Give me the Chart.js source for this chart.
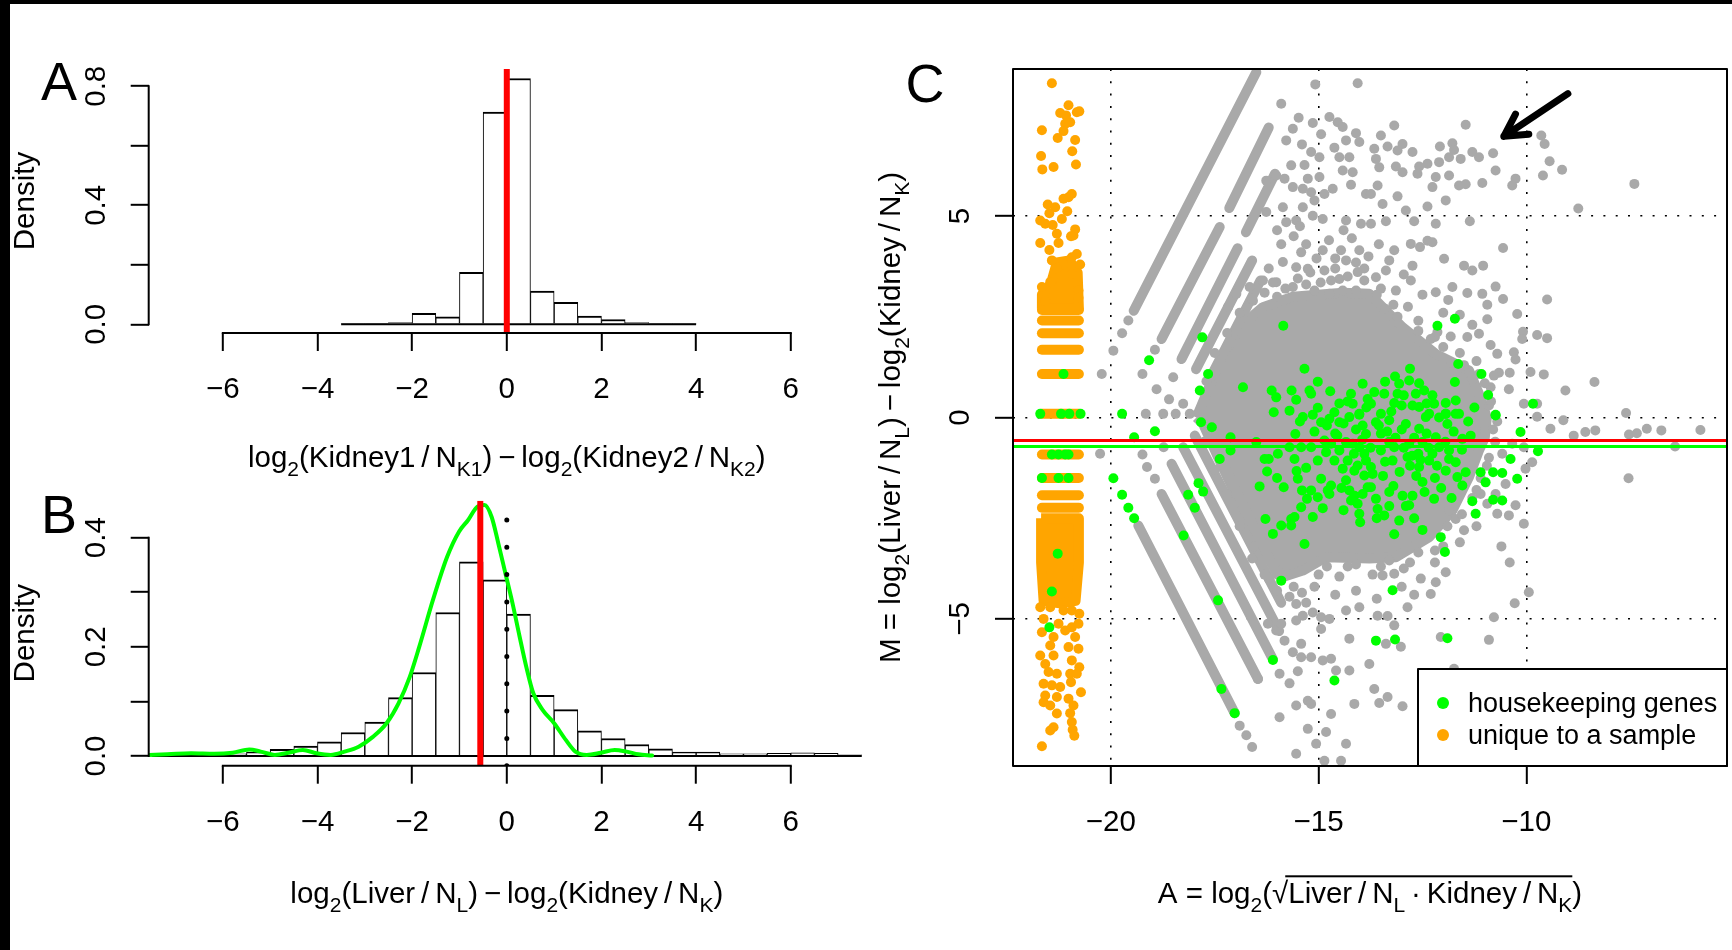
<!DOCTYPE html>
<html>
<head>
<meta charset="utf-8">
<script src="https://cdn.jsdelivr.net/npm/chart.js@4.4.1/dist/chart.umd.min.js"></script>
<style>
  html, body { margin: 0; padding: 0; background: #fff; }
  #page { position: relative; width: 1732px; height: 950px; overflow: hidden; background: #fff; }
  #page canvas { position: absolute; left: 0; top: 0; }
  .edge { position: absolute; background: #000; }
</style>
</head>
<body>
<div id="page">
  <div class="edge" style="left:0;top:0;width:1732px;height:4px"></div>
  <div class="edge" style="left:0;top:0;width:10px;height:950px"></div>
  <canvas id="chartA" width="1732" height="950"></canvas>
  <canvas id="chartB" width="1732" height="950"></canvas>
  <canvas id="chartC" width="1732" height="950"></canvas>
</div>
<script>
const FONT = "'Liberation Sans', Arial, Helvetica, sans-serif";
const TXT = 29.5;

// ---- panel A: kidney1 vs kidney2 histogram ----
const binWidth = 0.5;
const binMidsA = [-3.25, -2.75, -2.25, -1.75, -1.25, -0.75, -0.25, 0.25, 0.75, 1.25, 1.75, 2.25, 2.75, 3.25, 3.75];
const densA = [0.002, 0.003, 0.006, 0.037, 0.025, 0.175, 0.713, 0.826, 0.112, 0.074, 0.028, 0.016, 0.006, 0.002, 0.002];
const medianA = 0.0;

// ---- panel B: liver vs kidney histogram + density ----
const binMidsB = [-7.25, -6.75, -6.25, -5.75, -5.25, -4.75, -4.25, -3.75, -3.25, -2.75, -2.25, -1.75, -1.25, -0.75, -0.25,
                  0.25, 0.75, 1.25, 1.75, 2.25, 2.75, 3.25, 3.75, 4.25, 4.75, 5.25, 5.75, 6.25, 6.75, 7.25];
const densB = [0.001, 0.002, 0.003, 0.004, 0.007, 0.012, 0.018, 0.026, 0.043, 0.062, 0.107, 0.153, 0.263, 0.356, 0.323,
               0.260, 0.111, 0.085, 0.046, 0.032, 0.021, 0.013, 0.007, 0.007, 0.004, 0.004, 0.005, 0.006, 0.005, 0.002];
const hkDensX = [-7.56, -7.17, -6.67, -6.18, -5.79, -5.44, -5.20, -4.90, -4.61, -4.31, -4.02, -3.72, -3.43, -3.13, -2.83,
                 -2.54, -2.29, -2.05, -1.85, -1.56, -1.26, -1.01, -0.82, -0.62, -0.47, -0.32, -0.18, -0.03, 0.12, 0.27,
                 0.41, 0.56, 0.76, 1.00, 1.25, 1.45, 1.69, 1.99, 2.28, 2.53, 2.78, 3.07];
const hkDensY = [0.002, 0.003, 0.005, 0.004, 0.006, 0.012, 0.008, 0.002, 0.006, 0.011, 0.005, 0.002, 0.008, 0.017, 0.035,
                 0.060, 0.096, 0.145, 0.200, 0.286, 0.365, 0.411, 0.432, 0.457, 0.460, 0.438, 0.390, 0.335, 0.280, 0.219,
                 0.164, 0.115, 0.084, 0.060, 0.029, 0.008, 0.002, 0.006, 0.011, 0.008, 0.003, 0.001];
const medianB = -0.56;
const zeroLineB = 0;

// ---- panel C: MA plot ----
const grayPoints = [
  [-15.08,8.27],[-14.06,8.30],[-15.90,7.79],[-15.48,7.44],[-14.74,7.46],[-14.54,7.33],[-14.42,7.21],[-15.14,7.31],[-15.62,7.17],
  [-14.94,7.03],[-14.10,7.06],[-14.34,6.88],[-14.02,6.84],[-15.78,6.88],[-15.40,6.78],[-15.18,6.59],[-14.62,6.70],[-14.50,6.46],
  [-14.26,6.46],[-15.66,6.26],[-15.34,6.27],[-14.98,6.46],[-14.42,6.13],[-14.18,6.09],[-16.26,5.88],[-16.02,6.01],[-15.82,5.93],
  [-15.26,5.93],[-14.98,5.97],[-14.22,5.78],[-15.62,5.72],[-15.38,5.68],[-13.86,5.55],[-14.66,5.68],[-14.86,5.55],[-15.18,5.59],
  [-15.86,5.22],[-15.38,5.22],[-15.10,5.39],[-16.26,5.10],[-15.78,4.85],[-15.54,4.89],[-15.14,5.01],[-14.90,4.93],[-14.34,4.89],
  [-13.98,4.81],[-14.90,4.15],[-14.46,4.15],[-14.34,3.90],[-14.02,4.15],[-15.42,4.10],[-15.86,3.86],[-15.54,3.73],[-15.26,3.69],
  [-14.86,3.65],[-14.50,3.44],[-14.06,3.61],[-16.02,3.36],[-15.62,3.24],[-15.10,3.15],[-14.74,3.07],[-14.42,3.15],[-14.10,3.15],
  [-16.34,3.40],[-16.58,2.90],[-16.98,3.07],[-17.18,2.74],[-16.66,3.24],
  [-20.22,1.08],[-19.94,1.66],[-19.73,2.09],[-19.58,2.41],[-19.24,1.08],[-18.94,1.68],[-19.16,0.09],[-18.74,0.09],[-18.44,0.09],
  [-18.26,0.34],[-18.10,0.09],[-18.90,0.70],[-18.60,0.45],[-18.50,1.00],
  [-13.18,7.25],[-11.46,7.27],[-13.50,7.00],[-13.66,6.67],[-13.34,6.73],[-12.98,6.79],[-12.74,6.59],[-13.10,6.63],[-12.08,6.73],
  [-11.78,6.81],[-11.74,6.64],[-11.30,6.59],[-11.14,6.46],[-10.80,6.56],[-13.54,6.21],[-13.14,6.23],[-12.58,6.23],[-12.38,6.30],
  [-12.10,6.34],[-11.86,6.46],[-11.58,6.42],[-13.62,6.42],[-12.98,6.09],[-12.62,6.05],[-12.18,5.97],[-11.86,6.01],[-10.74,6.13],
  [-10.26,5.93],[-10.34,5.76],[-11.06,5.82],[-11.62,5.76],[-11.46,5.79],[-12.26,5.72],[-13.58,5.76],[-13.74,5.55],[-13.10,5.49],
  [-13.46,5.30],[-12.90,5.14],[-12.38,5.24],[-11.94,5.39],[-9.64,7.00],[-9.56,6.79],[-9.44,6.36],[-9.60,6.01],[-9.14,6.15],
  [-7.40,5.80],[-8.75,5.19],[-13.38,4.87],[-12.70,4.87],[-12.18,4.81],[-11.36,4.87],[-13.74,4.81],[-12.78,4.31],[-12.56,4.23],
  [-12.38,4.39],[-12.26,4.35],[-10.56,4.21],[-13.18,4.15],[-11.98,3.94],[-11.50,3.77],[-11.30,3.65],[-11.04,3.77],[-12.74,3.77],
  [-13.38,3.65],[-13.62,3.48],[-12.78,3.40],[-13.14,3.15],[-12.18,3.11],[-11.78,3.24],[-11.42,3.09],[-11.06,3.07],[-10.74,3.25],
  [-11.88,2.92],[-10.56,2.94],[-9.50,2.93],[-10.94,2.80],[-10.22,2.57],[-10.94,2.44],[-10.08,2.13],[-9.74,2.05],[-9.50,1.97],
  [-10.10,1.95],[-10.86,1.80],[-10.70,1.58],[-10.30,1.62],[-10.26,1.44],[-11.14,2.08],[-11.42,2.00],[-12.14,2.12],[-11.82,2.01],
  [-10.40,1.11],[-9.90,1.13],[-9.58,1.07],[-10.66,1.11],[-10.42,0.70],[-9.06,0.67],[-8.36,0.88],[-10.06,0.34],[-9.74,0.34],
  [-7.60,0.11],[-11.14,1.08],[-10.78,1.04],[-10.86,0.75],
  [-9.42,-0.28],[-9.11,-0.07],[-8.86,-0.45],[-8.58,-0.36],[-8.34,-0.32],[-7.53,-0.42],[-7.34,-0.39],[-7.10,-0.28],[-6.75,-0.32],
  [-5.81,-0.31],[-6.42,-0.72],[-7.54,-1.51],[-9.74,0.02],[-10.06,-0.74],[-9.86,-1.11],[-10.26,-2.18],[-10.06,-2.64],[-10.42,-2.43],
  [-10.70,-2.39],[-10.94,-2.14],[-9.94,-4.34],[-10.28,-4.61],[-10.78,-4.96],[-10.90,-5.52],[-12.06,-5.45],[-13.02,-5.69],
  [-13.38,-5.62],[-13.18,-5.16],[-13.58,-4.92],[-13.34,-4.93],[-12.86,-4.71],[-12.30,-4.38],[-11.94,-3.84],[-12.18,-4.09],
  [-12.54,-4.00],[-13.46,-3.92],[-13.18,-3.88],[-11.74,-6.24],[-13.66,-6.74],[-13.34,-6.94],[-13.54,-7.09],[-12.98,-7.17],
  [-11.86,-2.31],[-11.70,-2.52],[-11.10,-1.90],[-10.34,-0.65],[-10.58,-0.90],[-10.02,-1.27],[-10.50,-1.65],[-10.74,-1.90],
  [-13.78,-6.12],
  [-20.26,-0.90],[-19.24,-0.92],[-19.13,-1.23],[-18.94,-1.52],[-18.73,-0.74],[-15.54,-4.63],[-15.38,-4.92],[-15.14,-4.84],
  [-14.94,-4.96],[-14.74,-5.00],[-14.34,-4.79],[-14.26,-5.49],[-14.94,-5.25],[-15.42,-5.62],[-15.62,-5.83],[-15.18,-5.95],
  [-15.42,-5.95],[-14.90,-6.03],[-14.70,-5.99],[-14.58,-6.28],[-14.26,-6.28],[-15.54,-7.15],[-15.26,-7.03],[-15.18,-7.11],
  [-14.70,-7.36],[-14.14,-7.11],[-15.94,-7.44],[-15.26,-7.73],[-14.82,-7.81],[-15.06,-8.10],[-14.34,-8.10],[-15.54,-8.35],
  [-14.86,-8.52],[-14.46,-8.52],[-15.82,-5.54],[-16.02,-5.29],[-16.22,-5.12],[-15.54,-5.04],[-15.90,-5.12],[-14.02,-4.71],
  [-16.90,-7.65],[-16.74,-7.89],[-16.60,-8.18],[-16.46,-6.49],[-15.94,-6.36],[-15.70,-6.60],[-15.50,-6.30],
  [-16.00,3.00],[-15.30,3.30],[-14.70,3.40],[-13.50,3.20],[-13.20,2.80],[-12.60,2.40],[-12.20,2.00],[-11.60,1.60],[-11.20,1.40],
  [-10.90,0.30],[-10.80,-0.30],[-10.90,-1.00],[-11.20,-1.80],[-11.50,-2.80],[-12.00,-3.20],[-12.80,-3.60],[-13.50,-3.70],
  [-14.30,-3.70],[-15.00,-3.90],[-15.60,-4.20],[-16.20,-4.00],[-16.60,-3.50],
  [-17.70,0.90],[-17.50,1.60],[-17.20,2.10],[-16.90,2.60],[-16.60,2.95],[-16.30,3.10],[-16.10,3.35],[-15.80,3.20],[-15.50,3.45],
  [-15.20,3.60],[-14.95,3.35],[-14.60,3.70],[-14.30,3.50],[-14.10,3.85],[-13.90,3.40],[-13.60,3.05],[-13.40,2.70],[-13.10,2.50],
  [-12.85,2.75],[-12.60,2.15],[-12.30,1.95],[-12.00,1.75],[-11.80,1.35],[-11.50,1.30],[-11.30,0.95],[-11.00,0.85],[-10.85,0.40],
  [-10.70,-0.10],[-10.75,-0.60],[-10.95,-1.20],[-11.10,-1.50],[-11.30,-2.00],[-11.55,-2.40],[-11.90,-2.70],[-12.20,-3.30],
  [-12.60,-3.35],[-12.95,-3.75],[-13.30,-3.55],[-13.70,-3.90],[-14.10,-3.65],[-14.50,-3.95],[-14.80,-3.70],[-15.10,-4.20],
  [-15.40,-4.35],[-15.70,-4.45],[-16.00,-4.30],[-16.30,-3.90],[-16.55,-3.20],[-16.90,-2.70],[-17.20,-1.90],[-17.50,-1.30],
  [-17.75,-0.60],
  [-16.20,3.70],[-15.90,4.30],[-15.60,4.50],[-15.30,4.30],[-15.05,3.95],[-14.75,4.40],[-14.60,3.95],[-14.20,4.45],[-13.80,4.00],
  [-13.55,4.30],[-16.00,4.65],[-15.45,4.75],[-14.40,4.65],[-13.90,3.70],[-13.30,3.90],[-12.95,3.55],[-12.50,3.05],[-12.00,2.60],
  [-11.60,2.55],[-11.30,2.30],
  [-15.30,-4.60],[-14.60,-4.40],[-14.10,-4.30],[-13.60,-4.50],[-13.00,-4.20],[-12.70,-4.40],[-12.20,-3.60],[-11.60,-3.10],
  [-11.20,-2.70],[-10.60,-3.20],[-10.40,-3.60]
];
// dense runs of gray points (count-ratio streaks), [A1, M1, A2, M2]
const grayStreaks = [
  [-19.45, 2.65, -16.50, 8.57], [-18.78, 1.95, -17.38, 4.73], [-17.15, 5.20, -16.20, 7.20],
  [-18.30, 1.45, -16.95, 4.20], [-16.75, 4.60, -16.05, 6.05], [-17.95, 1.20, -16.60, 3.90],
  [-17.60, 1.00, -16.40, 3.40],
  [-19.34, -2.68, -17.02, -7.34], [-18.78, -1.90, -16.46, -6.49], [-18.54, -1.15, -16.10, -6.00],
  [-18.26, -0.74, -15.95, -5.30], [-17.98, -0.45, -15.90, -4.60], [-17.70, -0.30, -16.00, -3.90]
];
// outline of the solid gray core
const grayCore = [
  [-17.94, 0.00], [-17.30, 1.58], [-16.82, 2.32], [-16.34, 2.74], [-15.62, 3.00], [-14.42, 3.10], [-13.78, 3.07],
  [-12.98, 2.24], [-12.18, 1.58], [-11.38, 1.17], [-11.14, 0.59], [-10.95, 0.00], [-11.00, -0.50], [-11.14, -0.82],
  [-11.38, -1.48], [-11.78, -2.31], [-12.34, -2.97], [-13.14, -3.47], [-13.78, -3.50], [-14.82, -3.47], [-15.38, -3.80],
  [-15.86, -3.96], [-16.18, -3.55], [-16.82, -2.31], [-17.46, -0.90], [-17.78, -0.16], [-17.94, 0.00]
];
const greenPoints = [
  [-19.73,0.09],[-19.44,-0.49],[-18.94,-0.34],[-19.94,-1.51],[-19.73,-1.92],[-19.58,-2.24],[-19.44,-2.50],[-18.25,-2.93],
  [-18.14,-1.92],[-17.98,-2.24],[-17.89,-1.63],[-17.78,-1.84],[-17.42,-4.54],[-17.34,-6.74],[-17.02,-7.34],[-17.83,-0.12],
  [-17.57,-0.24],[-17.38,-1.03],[-17.12,-0.49],[-17.12,-0.82],[-16.50,-0.61],[-16.42,-1.71],[-16.28,-2.52],[-16.10,-2.89],
  [-16.24,-1.34],[-16.30,-1.03],[-16.20,-1.03],[-15.98,-0.90],[-15.90,-4.05],[-15.84,-1.73],[-15.90,-2.68],[-16.10,-6.02],
  [-15.66,-2.52],[-15.66,-2.68],[-15.58,-2.47],[-15.58,-1.03],[-15.56,-0.41],[-15.53,-1.33],[-15.50,-1.52],[-15.42,-2.23],
  [-15.40,-1.81],[-15.34,-3.14],[-15.28,-2.02],[-15.18,-1.81],[-15.14,-2.47],[-15.02,-1.98],[-14.94,-1.52],[-14.78,-1.81],
  [-14.70,-1.69],[-14.74,-1.90],[-14.62,-6.53],[-14.34,-1.56],[-14.26,-1.81],[-14.22,-2.06],[-14.14,-1.94],[-14.06,-2.14],
  [-14.02,-2.39],[-13.94,-1.90],[-13.82,-1.73],[-13.90,-1.44],[-14.14,-1.32],[-14.42,-1.27],[-14.62,-1.07],[-14.82,-0.86],
  [-15.02,-1.07],[-15.18,-0.74],[-15.42,-0.74],[-15.70,-0.74],[-15.38,0.01],[-15.14,0.07],[-14.94,-0.12],[-14.74,-0.03],
  [-14.50,-0.12],[-14.26,0.01],[-14.02,0.07],[-13.94,-0.20],[-13.86,-0.41],[-14.02,-0.74],[-14.18,-0.65],[-14.34,-0.61],
  [-14.50,-0.82],[-14.70,-0.65],[-14.86,-0.57],[-14.30,-1.07],[-14.06,-1.19],[-13.86,-1.07],
  [-10.74,0.05],[-10.14,-0.36],[-10.38,-1.03],[-10.22,-1.52],[-9.72,-0.84],[-10.58,-1.38],[-10.80,-1.36],[-10.98,-1.61],
  [-11.22,-2.39],[-11.30,-2.08],[-10.80,-2.04],[-10.58,-2.06],[-11.54,-1.69],[-11.34,-0.45],[-11.70,-1.11],[-12.10,-0.74],
  [-11.90,-0.16],[-11.70,0.09],[-12.06,-2.97],[-11.96,-3.34],[-12.50,-2.79],[-13.18,-2.90],[-13.06,-2.56],[-13.42,-2.43],
  [-13.62,-5.54],[-13.16,-5.51],[-11.90,-5.48],[-13.22,-4.29],[-12.22,-2.02],[-12.82,-2.18],[-12.98,-1.94],[-13.58,-2.27],
  [-12.58,-1.23],[-13.50,-0.82],[-12.82,-0.65],[-11.54,-0.53],[-11.46,-1.36],[-11.10,-1.36],[-11.66,-1.48],[-11.94,-1.32],
  [-11.86,-0.82],[-12.74,-1.94],[-13.30,-1.85],[-13.62,-2.02],[-13.74,-1.73],[-12.34,-1.07],[-12.86,-0.98],[-13.22,-1.07],
  [-13.18,-0.74],[-12.50,-0.61],[-12.18,-0.49],[-12.58,-0.28],[-12.90,-0.16],[-13.30,-0.07],[-13.62,-0.12],[-12.42,0.01],
  [-11.94,0.09],[-12.26,-0.90],[-11.86,-1.03],[-13.74,-1.23],
  [-21.14,1.08],[-21.70,0.09],[-21.20,0.09],[-21.00,0.09],[-20.73,0.09],[-19.08,1.42],[-17.80,1.99],[-17.66,1.08],
  [-17.86,0.67],[-16.82,0.75],[-15.85,2.28],[-15.34,1.21],[-15.02,0.89],[-16.13,0.67],[-16.02,0.50],[-15.65,0.67],
  [-15.54,0.44],[-15.22,0.67],[-15.18,0.59],[-14.72,0.65],[-15.02,0.24],[-15.70,0.17],[-16.08,0.13],[-14.62,0.13],
  [-14.22,0.59],[-13.94,0.84],[-14.18,0.34],[-14.02,0.09],[-13.82,0.46],
  [-11.72,2.45],[-12.14,2.28],[-11.64,1.33],[-11.08,1.08],[-11.72,0.88],[-10.92,0.56],[-10.74,0.07],[-9.84,0.34],
  [-13.40,0.89],[-13.16,1.02],[-13.06,0.84],[-12.80,1.21],[-12.82,0.92],[-12.58,0.85],[-12.46,0.67],[-12.26,0.55],
  [-13.66,0.63],[-13.42,0.59],[-13.10,0.59],[-12.66,0.59],[-13.18,0.36],[-12.74,0.30],[-12.58,0.26],[-12.22,0.34],
  [-11.94,0.36],[-11.70,0.42],[-13.74,0.34],[-13.50,0.09],[-12.34,0.09],[-11.94,0.09],[-11.62,0.09],
  [-21.48,-5.21],[-21.42,-4.32],[-21.28,-3.38],[-21.42,-0.92],[-21.26,-0.92],[-21.10,-0.92],[-21.02,-0.92],
  [-21.66,-1.50],[-21.26,-1.50],[-21.02,-1.50],
  [-13.50,-0.40],[-13.30,-0.60],[-13.00,-0.30],[-12.80,-1.20],[-12.60,-0.90],[-12.40,-0.40],[-12.20,-1.50],[-13.90,-0.90],
  [-13.70,-1.40],[-14.10,-0.30],[-13.20,-1.70],[-12.90,-2.20],[-12.50,-1.60],[-13.60,-2.50],[-14.40,-2.30],[-14.60,-0.40],
  [-13.00,0.30],[-12.70,-0.50],[-13.40,-1.10],[-14.30,0.40],
  [-14.80,-0.20],[-14.55,-0.45],[-14.40,-0.15],[-14.15,-0.90],[-13.95,-0.55],[-13.75,-0.75],[-13.55,-0.20],[-13.35,-0.35],
  [-13.15,-0.50],[-12.95,-0.75],[-12.75,-0.95],[-12.55,-1.05],[-12.35,-0.75],[-12.15,-1.20],[-11.95,-0.60],[-11.75,-0.35],
  [-11.55,-0.80],[-13.45,-1.45],[-13.05,-1.35],[-12.65,-1.45],[-12.45,-1.85],[-12.05,-1.75],[-11.80,-2.00],[-14.45,-1.75],
  [-14.00,-2.60],[-13.30,-2.20],[-12.70,-2.50],[-15.10,-0.35],[-15.30,-1.25],[-14.90,-2.25],[-13.85,0.25],[-13.25,0.15],
  [-12.95,0.55],[-12.40,0.35],[-12.10,0.00],[-11.40,-0.10],[-11.25,0.25],[-14.50,0.35],[-15.45,-0.10],[-16.00,-1.50]
];
const orangePoints = [
  [-21.42,8.30],[-21.02,7.75],[-21.22,7.56],[-21.08,7.50],[-20.82,7.58],[-20.76,7.60],[-21.10,7.29],[-20.98,7.33],[-21.66,7.13],
  [-21.14,7.11],[-21.28,6.94],[-20.86,6.89],[-20.93,6.61],[-21.68,6.49],[-21.65,6.16],[-21.38,6.22],[-20.84,6.28],[-20.94,5.55],
  [-21.02,5.47],[-21.14,5.43],[-21.52,5.29],[-21.34,5.22],[-21.48,5.07],[-21.05,5.12],[-21.18,4.93],[-21.70,4.89],[-21.58,4.81],
  [-21.40,4.78],[-21.30,4.56],[-20.90,4.52],[-20.86,4.67],[-20.96,4.50],[-21.70,4.33],[-21.26,4.33],[-21.48,4.16],[-21.42,3.90],
  [-20.94,3.98],[-20.82,4.06],[-20.74,3.80],[-21.14,3.80],[-21.30,3.69],[-21.66,3.24],[-21.46,3.36],[-20.94,3.56],[-20.78,3.15],
  [-20.78,2.97],[-21.58,2.89],
  [-21.70,-4.71],[-21.46,-4.71],[-21.14,-4.79],[-20.94,-4.79],[-20.76,-4.87],[-21.62,-5.00],[-21.26,-5.12],[-21.10,-5.29],
  [-20.94,-5.21],[-20.78,-5.12],[-21.66,-5.33],[-21.38,-5.45],[-20.86,-5.45],[-21.46,-5.66],[-21.02,-5.70],[-20.78,-5.74],
  [-21.70,-5.91],[-21.38,-5.91],[-21.58,-6.12],[-20.94,-6.03],[-20.76,-6.20],[-21.50,-6.32],[-21.30,-6.36],[-20.98,-6.36],
  [-20.82,-6.36],[-21.62,-6.61],[-21.42,-6.65],[-21.22,-6.69],[-20.96,-6.57],[-21.58,-6.90],[-21.30,-6.94],[-21.02,-6.98],
  [-20.72,-6.82],[-21.62,-7.07],[-21.46,-7.15],[-20.90,-7.15],[-21.30,-7.35],[-20.98,-7.34],[-20.94,-7.56],[-21.38,-7.69],
  [-21.46,-7.77],[-20.92,-7.75],[-20.88,-7.90],[-21.66,-8.16]
];
// rows of overlapping orange points at a repeated M value
const orangeRowM = [2.67, 2.41, 2.09, 1.68, 1.08, 0.09, -0.92, -1.50, -1.93, -2.24];
const orangeRowA = [-21.66, -20.77];
const orangeBlocks = [
  [[-21.66,2.70],[-21.66,3.05],[-21.45,3.30],[-21.30,3.85],[-21.00,3.90],[-20.80,3.60],[-20.77,2.70],[-21.66,2.70]],
  [[-21.68,-2.50],[-20.77,-2.50],[-20.77,-3.60],[-20.85,-4.55],[-21.20,-4.62],[-21.62,-4.55],[-21.68,-3.60],[-21.68,-2.50]]
];
const normAll = -0.57;   // red line
const normHk = -0.72;    // green line
const arrowTail = [-9.00, 8.04];
const arrowTip = [-10.54, 6.98];

// ---- axes ----
const xTicksAB = [-6, -4, -2, 0, 2, 4, 6];
const xTickLabelsAB = ['\u22126', '\u22124', '\u22122', '0', '2', '4', '6'];
const yTicksA = [0, 0.2, 0.4, 0.6, 0.8];
const yLabelValsA = [0, 0.4, 0.8];
const yLabelsA = ['0.0', '0.4', '0.8'];
const yTicksB = [0, 0.1, 0.2, 0.3, 0.4];
const yLabelValsB = [0, 0.2, 0.4];
const yLabelsB = ['0.0', '0.2', '0.4'];
const xTicksC = [-20, -15, -10];
const xTickLabelsC = ['\u221220', '\u221215', '\u221210'];
const yTicksC = [-5, 0, 5];
const yLabelsC = ['\u22125', '0', '5'];

const rangeAB = [-7.566, 7.566];
const yRangeA = [-0.0292, 0.858];
const yRangeB = [-0.0178, 0.4678];
const rangeC = [-22.356, -5.17];
const yRangeC = [-8.652, 8.652];

const SP = '\u2009';
const densityTitle = [{ t: 'Density' }];
const xTitleA = [{ t: 'log' }, { t: '2', sub: true }, { t: '(Kidney1' + SP + '/' + SP + 'N' }, { t: 'K1', sub: true },
  { t: ')' + SP + '\u2212' + SP + 'log' }, { t: '2', sub: true }, { t: '(Kidney2' + SP + '/' + SP + 'N' }, { t: 'K2', sub: true }, { t: ')' }];
const xTitleB = [{ t: 'log' }, { t: '2', sub: true }, { t: '(Liver' + SP + '/' + SP + 'N' }, { t: 'L', sub: true },
  { t: ')' + SP + '\u2212' + SP + 'log' }, { t: '2', sub: true }, { t: '(Kidney' + SP + '/' + SP + 'N' }, { t: 'K', sub: true }, { t: ')' }];
const xTitleC = [{ t: 'A = log' }, { t: '2', sub: true }, { t: '(\u221A' }, { t: 'Liver' + SP + '/' + SP + 'N', over: true },
  { t: 'L', sub: true, over: true }, { t: SP + '\u00B7' + SP + 'Kidney' + SP + '/' + SP + 'N', over: true }, { t: 'K', sub: true, over: true }, { t: ')' }];
const yTitleC = [{ t: 'M = log' }, { t: '2', sub: true }, { t: '(Liver' + SP + '/' + SP + 'N' }, { t: 'L', sub: true },
  { t: ')' + SP + '\u2212' + SP + 'log' }, { t: '2', sub: true }, { t: '(Kidney' + SP + '/' + SP + 'N' }, { t: 'K', sub: true }, { t: ')' }];

function drawRich(ctx, parts, x, y, size, rotate, align) {
  ctx.save();
  ctx.translate(x, y);
  if (rotate) ctx.rotate(-Math.PI / 2);
  ctx.fillStyle = '#000';
  ctx.textAlign = 'left';
  ctx.textBaseline = 'alphabetic';
  const fontOf = p => (p.sub ? Math.round(size * 0.72) : size) + 'px ' + FONT;
  let total = 0;
  for (const p of parts) { ctx.font = fontOf(p); total += ctx.measureText(p.t).width; }
  let cx = align === 'left' ? 0 : -total / 2;
  const base = size * 0.35;
  let o0 = null, o1 = null;
  for (const p of parts) {
    ctx.font = fontOf(p);
    const w = ctx.measureText(p.t).width;
    ctx.fillText(p.t, cx, base + (p.sub ? size * 0.28 : 0));
    if (p.over) { if (o0 === null) o0 = cx; o1 = cx + w; }
    cx += w;
  }
  if (o0 !== null) ctx.fillRect(o0 - 3, base - size * 0.95, o1 - o0 + 3, 2);
  ctx.restore();
}

const decor = {
  chartA: { axisLines: true, yLab: { vals: yLabelValsA, text: yLabelsA, x: 95 }, yTitle: { parts: densityTitle, x: 24 },
            xTitle: { parts: xTitleA, y: 457 }, letter: { t: 'A', x: 59, y: 100 } },
  chartB: { axisLines: true, yLab: { vals: yLabelValsB, text: yLabelsB, x: 95 }, yTitle: { parts: densityTitle, x: 24 },
            xTitle: { parts: xTitleB, y: 893 }, letter: { t: 'B', x: 59, y: 533 } },
  chartC: { box: true, yLab: { vals: yTicksC, text: yLabelsC, x: 959 }, yTitle: { parts: yTitleC, x: 890 },
            xTitle: { parts: xTitleC, y: 893 }, letter: { t: 'C', x: 925, y: 102 },
            legend: { w: 309, h: 97, dotX: 25, textX: 50, row0: 34, rowGap: 32, items: [2, 3] }, arrow: true }
};

const rDecor = {
  id: 'rDecor',
  afterDraw(chart) {
    const d = decor[chart.canvas.id];
    const ctx = chart.ctx, a = chart.chartArea, xs = chart.scales.x, ys = chart.scales.y;
    ctx.save();
    ctx.strokeStyle = '#000';
    ctx.lineWidth = 2;
    if (d.axisLines) {
      const xt = xs.ticks, yt = ys.ticks;
      ctx.beginPath();
      ctx.moveTo(xs.getPixelForValue(xt[0].value) - 1, a.bottom);
      ctx.lineTo(xs.getPixelForValue(xt[xt.length - 1].value) + 1, a.bottom);
      ctx.moveTo(a.left, ys.getPixelForValue(yt[0].value) + 1);
      ctx.lineTo(a.left, ys.getPixelForValue(yt[yt.length - 1].value) - 1);
      ctx.stroke();
    }
    if (d.arrow) {
      const x0 = xs.getPixelForValue(arrowTail[0]), y0 = ys.getPixelForValue(arrowTail[1]);
      const x1 = xs.getPixelForValue(arrowTip[0]), y1 = ys.getPixelForValue(arrowTip[1]);
      const ang = Math.atan2(y1 - y0, x1 - x0);
      ctx.lineWidth = 7;
      ctx.lineCap = 'round';
      ctx.lineJoin = 'round';
      ctx.beginPath();
      ctx.moveTo(x0, y0);
      ctx.lineTo(x1, y1);
      for (const s of [-1, 1]) {
        ctx.moveTo(x1, y1);
        ctx.lineTo(x1 - 25 * Math.cos(ang + s * 0.5), y1 - 25 * Math.sin(ang + s * 0.5));
      }
      ctx.stroke();
      ctx.lineCap = 'butt';
      ctx.lineWidth = 2;
    }
    if (d.legend) {
      const L = d.legend;
      const lx = a.right - L.w, ly = a.bottom - L.h;
      ctx.fillStyle = '#fff';
      ctx.fillRect(lx, ly, L.w, L.h);
      ctx.strokeRect(lx, ly, L.w, L.h);
      L.items.forEach((idx, k) => {
        const ds = chart.data.datasets[idx];
        const y = ly + L.row0 + k * L.rowGap;
        ctx.fillStyle = ds.pointBackgroundColor;
        ctx.beginPath();
        ctx.arc(lx + L.dotX, y, 6, 0, Math.PI * 2);
        ctx.fill();
        drawRich(ctx, [{ t: ds.label }], lx + L.textX, y, 27, false, 'left');
      });
    }
    if (d.box) ctx.strokeRect(a.left, a.top, a.right - a.left, a.bottom - a.top);
    d.yLab.vals.forEach((v, i) => drawRich(ctx, [{ t: d.yLab.text[i] }], d.yLab.x, ys.getPixelForValue(v), TXT, true));
    drawRich(ctx, d.yTitle.parts, d.yTitle.x, (a.top + a.bottom) / 2, TXT, true);
    drawRich(ctx, d.xTitle.parts, (a.left + a.right) / 2, d.xTitle.y, TXT, false);
    ctx.font = '54px ' + FONT;
    ctx.fillStyle = '#000';
    ctx.textAlign = 'center';
    ctx.textBaseline = 'alphabetic';
    ctx.fillText(d.letter.t, d.letter.x, d.letter.y);
    ctx.restore();
  }
};

function xScale(range, ticks, labels, dotted) {
  return {
    type: 'linear', min: range[0], max: range[1], z: dotted ? 1 : 0, offset: false,
    afterBuildTicks: s => { s.ticks = ticks.map(v => ({ value: v })); },
    afterFit: s => { s.height = 100; },
    ticks: { autoSkip: false, maxRotation: 0, minRotation: 0, padding: 21, color: '#000',
             font: { family: FONT, size: TXT }, callback: (v, i) => labels[i] },
    grid: { offset: false, drawOnChartArea: dotted, color: '#000', lineWidth: 1.6, tickLength: 18, tickWidth: 2, tickColor: '#000' },
    border: { display: false, dash: dotted ? [2, 10.3] : [] }
  };
}
function yScale(range, ticks, dotted) {
  return {
    type: 'linear', min: range[0], max: range[1], z: dotted ? 1 : 0, offset: false,
    afterBuildTicks: s => { s.ticks = ticks.map(v => ({ value: v })); },
    afterFit: s => { s.width = 40; },
    ticks: { display: false },
    grid: { offset: false, drawOnChartArea: dotted, color: '#000', lineWidth: 1.6, tickLength: 18, tickWidth: 2, tickColor: '#000' },
    border: { display: false, dash: dotted ? [2, 10.3] : [] }
  };
}
const baseOpts = (padding, scales) => ({
  responsive: false, animation: false, devicePixelRatio: 1, events: [],
  layout: { padding },
  plugins: { legend: { display: false }, tooltip: { enabled: false } },
  scales
});
const pts = arr => arr.map(([x, y]) => ({ x, y }));
const vline = (x, yr) => [{ x, y: yr[0] }, { x, y: yr[1] }];
const histBars = (mids, dens, order) => ({
  type: 'bar', order,
  data: mids.map((x, i) => ({ x, y: dens[i] })),
  backgroundColor: '#fff', borderColor: '#000',
  borderWidth: { top: 2, left: 1, right: 1, bottom: 0 }, borderSkipped: false,
  barPercentage: 1, categoryPercentage: 1
});
const histBase = (mids, order) => ({
  type: 'line', order,
  data: [{ x: mids[0] - binWidth / 2, y: 0 }, { x: mids[mids.length - 1] + binWidth / 2, y: 0 }],
  borderColor: '#000', borderWidth: 2, pointRadius: 0
});

new Chart(document.getElementById('chartA'), {
  type: 'bar',
  data: { datasets: [
    { type: 'line', order: 0, data: vline(medianA, yRangeA), borderColor: '#FF0000', borderWidth: 6, pointRadius: 0 },
    histBase(binMidsA, 1),
    histBars(binMidsA, densA, 2)
  ] },
  options: baseOpts({ left: 108.7, right: 867.1, top: 69, bottom: 517 },
    { x: xScale(rangeAB, xTicksAB, xTickLabelsAB, false), y: yScale(yRangeA, yTicksA, false) }),
  plugins: [rDecor]
});

new Chart(document.getElementById('chartB'), {
  type: 'bar',
  data: { datasets: [
    { type: 'line', order: 0, data: vline(zeroLineB, yRangeB), borderColor: '#000', borderWidth: 5,
      borderDash: [0, 27.3], borderCapStyle: 'round', pointRadius: 0 },
    { type: 'line', order: 1, data: vline(medianB, yRangeB), borderColor: '#FF0000', borderWidth: 6, pointRadius: 0 },
    { type: 'line', order: 2, data: hkDensX.map((x, i) => ({ x, y: hkDensY[i] })), borderColor: '#00FF00',
      borderWidth: 4, pointRadius: 0, cubicInterpolationMode: 'monotone', borderCapStyle: 'round' },
    histBase(binMidsB, 3),
    histBars(binMidsB, densB, 4)
  ] },
  options: baseOpts({ left: 108.7, right: 867.1, top: 500.7, bottom: 84.3 },
    { x: xScale(rangeAB, xTicksAB, xTickLabelsAB, false), y: yScale(yRangeB, yTicksB, false) }),
  plugins: [rDecor]
});

const GRAY = '#A9A9A9', GREEN = '#00FF00', ORANGE = '#FFA500';
const dot = (label, arr, color, order) => ({
  label, order, data: pts(arr), pointRadius: 5, pointHoverRadius: 5, pointBorderWidth: 0,
  pointBackgroundColor: color, backgroundColor: color, borderColor: color
});
const band = (a, color, order) => ({
  type: 'line', order, data: pts(a), borderColor: color, borderWidth: 10,
  borderCapStyle: 'round', borderJoinStyle: 'round', pointRadius: 0
});
const shape = (a, color, order) => ({
  type: 'line', order, data: pts(a), borderColor: color, backgroundColor: color, borderWidth: 10,
  borderJoinStyle: 'round', fill: 'shape', pointRadius: 0
});

const cSets = [
  { type: 'line', order: 0, data: [{ x: rangeC[0], y: normAll }, { x: rangeC[1], y: normAll }], borderColor: '#FF0000', borderWidth: 3, pointRadius: 0 },
  { type: 'line', order: 0, data: [{ x: rangeC[0], y: normHk }, { x: rangeC[1], y: normHk }], borderColor: '#00FF00', borderWidth: 3, pointRadius: 0 },
  dot('housekeeping genes', greenPoints, GREEN, 1),
  dot('unique to a sample', orangePoints, ORANGE, 2),
  dot('other genes', grayPoints, GRAY, 5)
];
orangeRowM.forEach(m => cSets.push(band([[orangeRowA[0], m], [orangeRowA[1], m]], ORANGE, 3)));
orangeBlocks.forEach(b => cSets.push(shape(b, ORANGE, 3)));
grayStreaks.forEach(s => cSets.push(band([[s[0], s[1]], [s[2], s[3]]], GRAY, 6)));
cSets.push(shape(grayCore, GRAY, 6));

new Chart(document.getElementById('chartC'), {
  type: 'scatter',
  data: { datasets: cSets },
  options: baseOpts({ left: 973, right: 4, top: 69, bottom: 84 },
    { x: xScale(rangeC, xTicksC, xTickLabelsC, true), y: yScale(yRangeC, yTicksC, true) }),
  plugins: [rDecor]
});
</script>
</body>
</html>
